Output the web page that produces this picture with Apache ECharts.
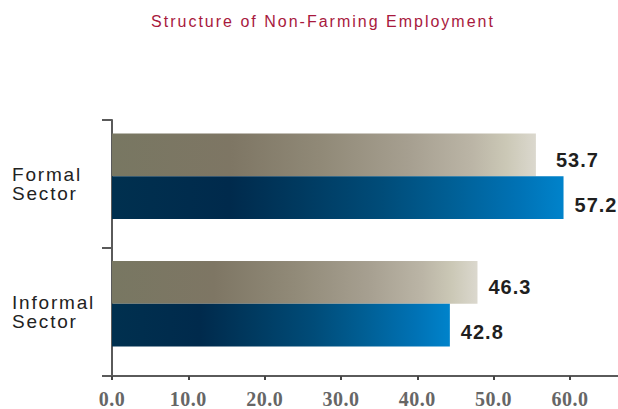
<!DOCTYPE html>
<html>
<head>
<meta charset="utf-8">
<script src="https://cdn.jsdelivr.net/npm/echarts@6/dist/echarts.min.js"></script>
<style>
  html, body { margin: 0; padding: 0; background: #ffffff; }
  #chart { width: 618px; height: 409px; }
  /* spaced lettering, keyed on each text group's fill colour */
  #chart text[fill="#a8193d"] { letter-spacing: 2px; }
  #chart text[fill="#222222"] { letter-spacing: 1.8px; }
  #chart text[fill="#1f1f1f"] { letter-spacing: 1px; }
  #chart text[fill="#666666"] { letter-spacing: 0.5px; }
</style>
</head>
<body>
<div id="chart"></div>
<script>
// Chart data
const titleText = 'Structure of Non-Farming Employment';
const categories = ['Formal\nSector', 'Informal\nSector'];
const valuesA = [53.7, 46.3];   // upper (sand) bar of each pair
const valuesB = [57.2, 42.8];   // lower (blue) bar of each pair
const tickValues = [0, 10, 20, 30, 40, 50, 60];
const tickLabels = ['0.0', '10.0', '20.0', '30.0', '40.0', '50.0', '60.0'];

const chart = echarts.init(document.getElementById('chart'), null, { renderer: 'svg' });

const sandGradient = {
  type: 'linear', x: 0, y: 0, x2: 1, y2: 0,
  colorStops: [
    { offset: 0.00, color: '#787762' },
    { offset: 0.28, color: '#7e7664' },
    { offset: 0.50, color: '#918a78' },
    { offset: 0.70, color: '#a69f90' },
    { offset: 0.85, color: '#bbb5a6' },
    { offset: 0.93, color: '#cbc8b6' },
    { offset: 1.00, color: '#dbd8ce' }
  ]
};
const blueGradient = {
  type: 'linear', x: 0, y: 0, x2: 1, y2: 0,
  colorStops: [
    { offset: 0.00, color: '#00304f' },
    { offset: 0.26, color: '#002a4c' },
    { offset: 0.42, color: '#003a60' },
    { offset: 0.60, color: '#004c79' },
    { offset: 0.75, color: '#005f95' },
    { offset: 0.90, color: '#0072b5' },
    { offset: 1.00, color: '#0083cb' }
  ]
};

const valueLabel = {
  show: true,
  position: 'right',
  distance: 11,
  color: '#1f1f1f',
  fontFamily: 'Liberation Sans, Arial, sans-serif',
  fontWeight: 'bold',
  fontSize: 20,
  formatter: p => p.value.toFixed(1)
};

const option = {
  backgroundColor: '#ffffff',
  animation: false,
  graphic: [{
    type: 'text',
    x: 323,
    y: 13,
    style: {
      text: titleText,
      fill: '#a8193d',
      font: '16px "Liberation Sans", Arial, sans-serif',
      align: 'center',
      verticalAlign: 'top'
    }
  }],
  grid: [
    // frame with the visible axes
    { left: 112, right: 0, top: 120, bottom: 33 },
    // bars
    { left: 112, right: 0, top: 112.5, bottom: 41.5 }
  ],
  xAxis: [
    {
      gridIndex: 0,
      type: 'value',
      min: tickValues[0],
      max: 66.3,
      interval: 10,
      splitLine: { show: false },
      axisLine: { show: true, lineStyle: { color: '#5a5a5a', width: 2 } },
      axisTick: { show: true, length: 4, lineStyle: { color: '#444444', width: 2 } },
      axisLabel: {
        margin: 13,
        color: '#666666',
        fontFamily: 'Liberation Serif, "Times New Roman", serif',
        fontWeight: 'bold',
        fontSize: 20,
        showMaxLabel: false,
        formatter: v => {
          const i = tickValues.indexOf(v);
          return i >= 0 ? tickLabels[i] : '';
        }
      }
    },
    { gridIndex: 1, type: 'value', min: 0, max: 64.1, show: false }
  ],
  yAxis: [
    {
      gridIndex: 0,
      type: 'category',
      data: categories,
      inverse: true,
      axisLine: { show: true, lineStyle: { color: '#5a5a5a', width: 2 } },
      axisTick: { show: true, length: 10, lineStyle: { color: '#5a5a5a', width: 2 } },
      axisLabel: {
        align: 'left',
        margin: 100,
        color: '#222222',
        fontFamily: 'Liberation Sans, Arial, sans-serif',
        fontSize: 19,
        lineHeight: 19
      }
    },
    { gridIndex: 1, type: 'category', data: categories, inverse: true, show: false }
  ],
  series: [
    {
      name: 'Group A',
      type: 'bar',
      xAxisIndex: 1,
      yAxisIndex: 1,
      barWidth: 42.7,
      barGap: '0%',
      itemStyle: { color: sandGradient },
      label: Object.assign({}, valueLabel, { offset: [0, 5] }),
      data: valuesA.map((v, i) => i === 0 ? { value: v, label: { distance: 20 } } : v)
    },
    {
      name: 'Group B',
      type: 'bar',
      xAxisIndex: 1,
      yAxisIndex: 1,
      barWidth: 42.7,
      barGap: '0%',
      itemStyle: { color: blueGradient },
      label: Object.assign({}, valueLabel, { offset: [0, 7] }),
      data: valuesB
    }
  ]
};

chart.setOption(option);
</script>
</body>
</html>
